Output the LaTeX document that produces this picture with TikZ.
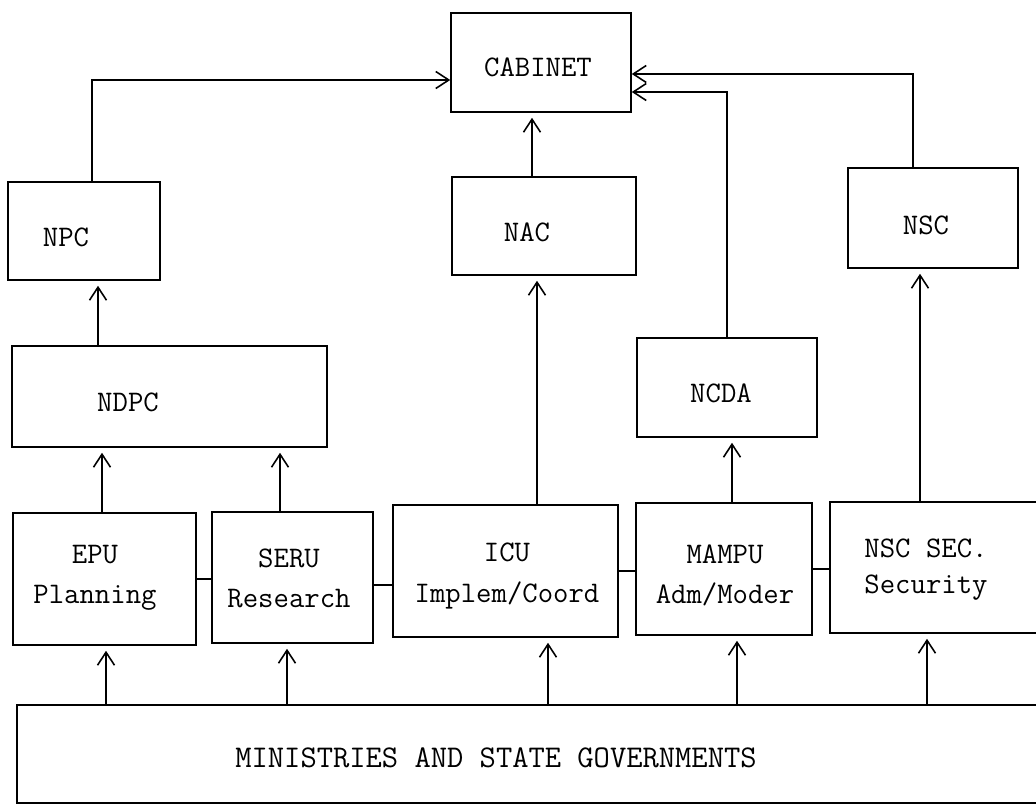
\documentclass[tikz,border=0pt]{standalone}
\usetikzlibrary{arrows.meta, positioning, calc}

\tikzset{
  unit/.style={draw, line width=0.9pt, inner sep=0pt},
  tag/.style={font=\ttfamily\fontsize{17}{22.8}\selectfont, align=center, inner sep=0pt},
  link/.style={line width=0.9pt},
  flow/.style={line width=0.9pt, -{Straight Barb[length=2.6mm, width=3.4mm, line width=0.9pt]}, shorten >=1mm},
}

\begin{document}
\begin{tikzpicture}[x=0.2mm, y=-0.2mm]
      \useasboundingbox (0,0) rectangle (1036,811);

      \node[unit, minimum width=36mm, minimum height=19.8mm] (cabinet) at (541,62.5) {};
      \node[tag] (cabinet-t) at (538,67) {CABINET};

      \node[unit, minimum width=30.4mm, minimum height=19.6mm] (npc) at (84,231) {};
      \node[tag] (npc-t) at (66,237) {NPC};
      \node[unit, minimum width=36.8mm, minimum height=19.6mm] (nac) at (544,226) {};
      \node[tag] (nac-t) at (527,232) {NAC};
      \node[unit, minimum width=34mm, minimum height=20mm] (nsc) at (933,218) {};
      \node[tag] (nsc-t) at (926,225) {NSC};

      \node[unit, minimum width=63mm, minimum height=20.2mm] (ndpc) at (169.5,396.5) {};
      \node[tag] (ndpc-t) at (128,402) {NDPC};
      \node[unit, minimum width=36mm, minimum height=19.8mm] (ncda) at (727,387.5) {};
      \node[tag] (ncda-t) at (721,393) {NCDA};

      \node[unit, minimum width=36.6mm, minimum height=26.4mm] (epu) at (104.5,579) {};
      \node[tag] (epu-t) at (95,578) {EPU\\Planning};
      \node[unit, minimum width=32.2mm, minimum height=26.2mm] (seru) at (292.5,577.5) {};
      \node[tag] (seru-t) at (289,578) {SERU\\Research};
      \node[unit, minimum width=45mm, minimum height=26.4mm] (icu) at (505.5,571) {};
      \node[tag] (icu-t) at (507,576) {ICU\\Implem/Coord};
      \node[unit, minimum width=35.2mm, minimum height=26.4mm] (mampu) at (724,569) {};
      \node[tag] (mampu-t) at (725,575) {MAMPU\\Adm/Moder};
      \node[unit, minimum width=46mm, minimum height=26.2mm] (nscsec) at (945,567.5) {};
      \node[tag, font=\ttfamily\fontsize{17}{20.5}\selectfont] (nscsec-t) at (926,570) {NSC SEC.\\Security};

      \node[unit, minimum width=208.6mm, minimum height=19.6mm] (mstg) at (538.5,754) {};
      \node[tag, font=\ttfamily\fontsize{18}{22}\selectfont] (mstg-t) at (496,758) {MINISTRIES AND STATE GOVERNMENTS};

      % side links of the units
      \draw[link] (epu.east) -- (epu.east -| seru.west);
      \draw[link] ([yshift=-1.5mm]seru.east) -- ([yshift=-1.5mm]seru.east -| icu.west);
      \draw[link] (icu.east) -- (icu.east -| mampu.west);
      \draw[link] (mampu.east) -- (mampu.east -| nscsec.west);

      \draw[flow] ([xshift=0.3mm]epu.south |- mstg.north) -- ([xshift=0.3mm]epu.south);
      \draw[flow] ([xshift=-1.1mm]seru.south |- mstg.north) -- ([xshift=-1.1mm]seru.south);
      \draw[flow] ([xshift=8.5mm]icu.south |- mstg.north) -- ([xshift=8.5mm]icu.south);
      \draw[flow] ([xshift=2.6mm]mampu.south |- mstg.north) -- ([xshift=2.6mm]mampu.south);
      \draw[flow] ([xshift=-3.6mm]nscsec.south |- mstg.north) -- ([xshift=-3.6mm]nscsec.south);

      \draw[flow] ([xshift=-0.5mm]epu.north) -- ([xshift=-0.5mm]epu.north |- ndpc.south);
      \draw[flow] ([xshift=-2.5mm]seru.north) -- ([xshift=-2.5mm]seru.north |- ndpc.south);
      \draw[flow] ([xshift=2.8mm]npc.south |- ndpc.north) -- ([xshift=2.8mm]npc.south);
      \draw[flow] ([xshift=-1.4mm]nac.south |- icu.north) -- ([xshift=-1.4mm]nac.south);
      \draw[flow] ([xshift=1mm]ncda.south |- mampu.north) -- ([xshift=1mm]ncda.south);
      \draw[flow] ([xshift=-2.6mm]nsc.south |- nscsec.north) -- ([xshift=-2.6mm]nsc.south);

      % up to the cabinet
      \draw[flow] ([xshift=-2.4mm]nac.north) -- ([xshift=-2.4mm]nac.north |- cabinet.south);
      \draw[flow, shorten >=0pt] ([xshift=1.6mm]npc.north) |- ([yshift=-3.5mm]cabinet.west);
      \draw[flow, shorten >=0pt] ([xshift=-4mm]nsc.north) |- ([yshift=-2.3mm]cabinet.east);
      \draw[flow, shorten >=0pt] (ncda.north) |- ([yshift=-5.9mm]cabinet.east);
\end{tikzpicture}
\end{document}
